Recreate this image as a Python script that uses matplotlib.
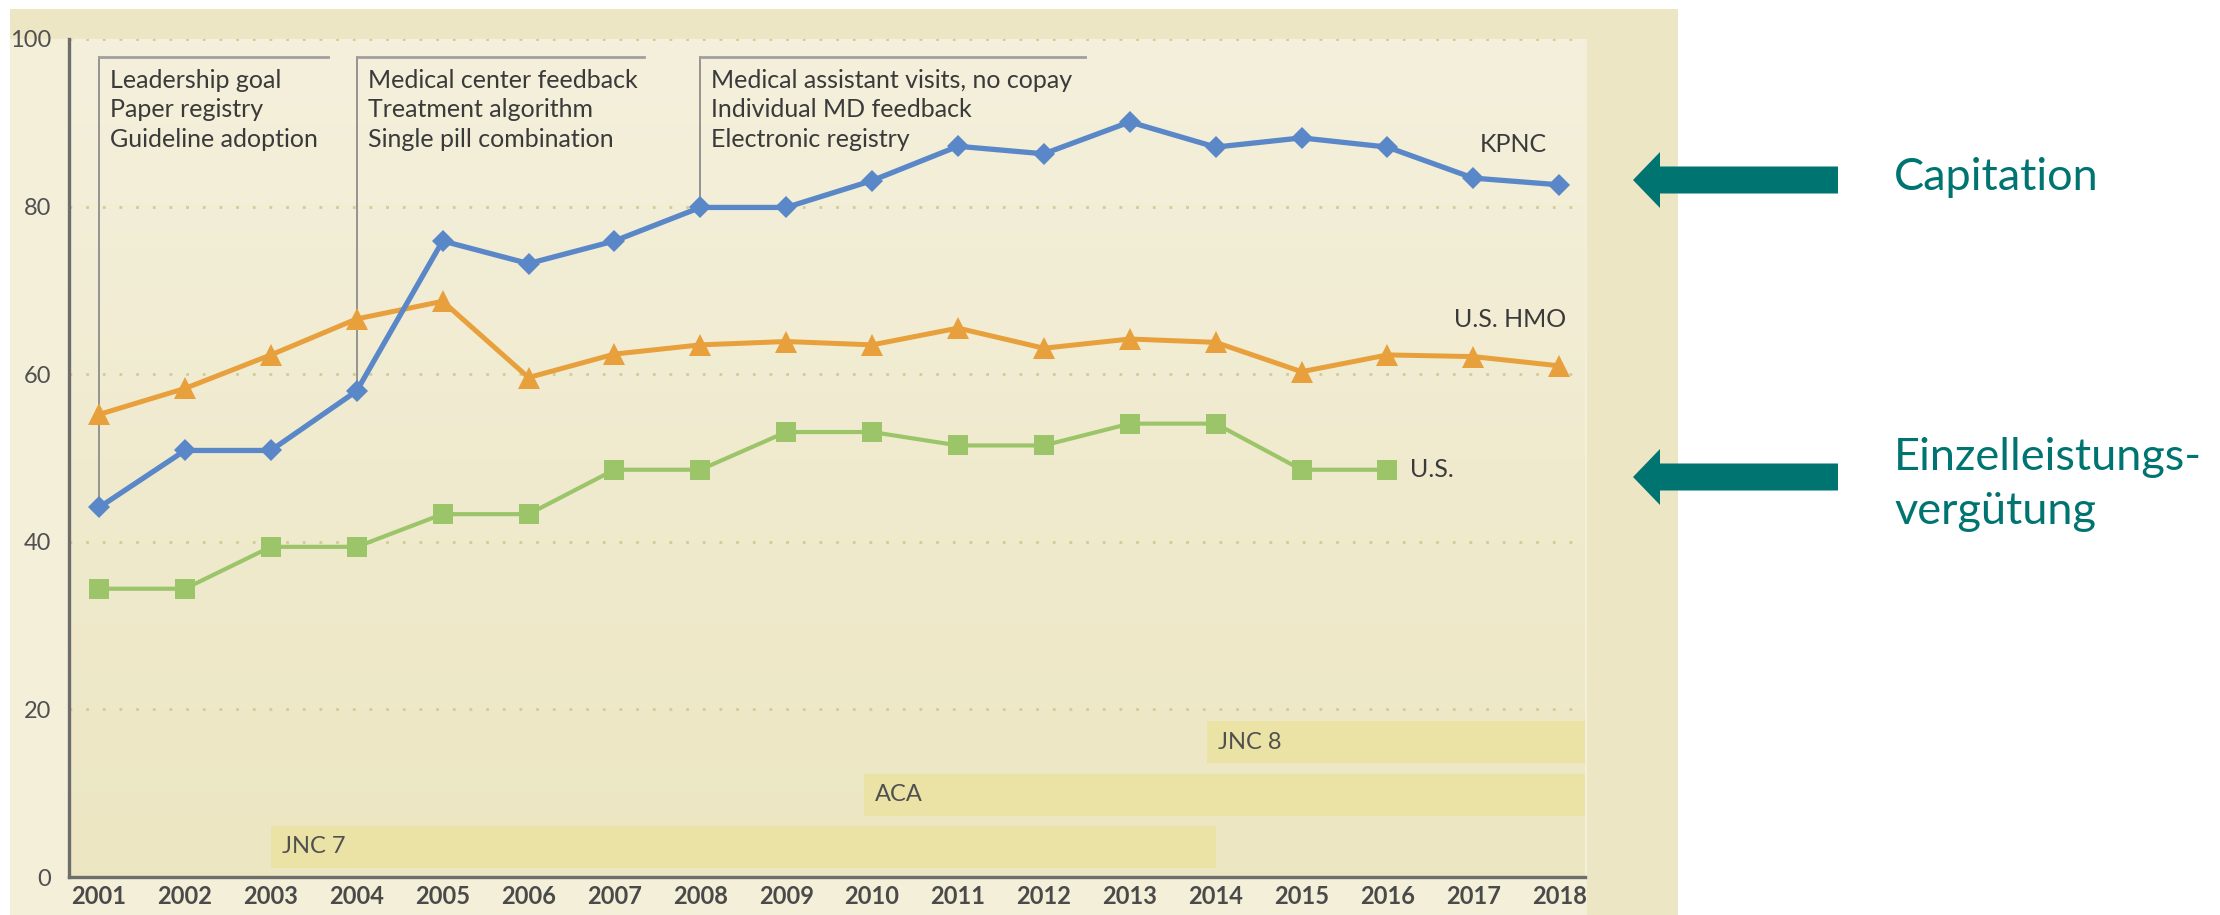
import numpy as np
import matplotlib.pyplot as plt
from matplotlib.patches import Rectangle, FancyArrow
from matplotlib.colors import LinearSegmentedColormap

plt.rcParams["font.family"] = ["Lato", "DejaVu Sans"]

years = list(range(2001, 2019))
kpnc = [44.1, 50.9, 50.9, 58.0, 75.9, 73.2, 75.9, 79.9, 79.9, 83.1,
        87.2, 86.3, 90.1, 87.1, 88.2, 87.1, 83.4, 82.6]
us_hmo = [55.2, 58.3, 62.3, 66.6, 68.7, 59.6, 62.4, 63.5, 63.9, 63.5,
          65.5, 63.1, 64.2, 63.8, 60.3, 62.3, 62.1, 61.0]
us_years = list(range(2001, 2017))
us = [34.4, 34.4, 39.4, 39.4, 43.3, 43.3, 48.6, 48.6, 53.1, 53.1,
      51.5, 51.5, 54.1, 54.1, 48.6, 48.6]

note_years = [2001, 2004, 2008]
note_lines = [
    ["Leadership goal", "Paper registry", "Guideline adoption"],
    ["Medical center feedback", "Treatment algorithm", "Single pill combination"],
    ["Medical assistant visits, no copay", "Individual MD feedback", "Electronic registry"],
]

policy_names = ["JNC 7", "ACA", "JNC 8"]
policy_start = [2003.0, 2009.9, 2013.9]
policy_end = [2014.0, 2018.3, 2018.3]
policy_row = [3.6, 9.8, 16.1]

y_ticks = [0, 20, 40, 60, 80, 100]

teal = "#007471"
txt = "#3a3a3a"

fig = plt.figure(figsize=(22.2, 9.15), dpi=100)
fig.patch.set_facecolor("white")

# background panel + arrows in pixel coords
bg = fig.add_axes([0, 0, 1, 1], zorder=0)
bg.set_xlim(0, 2220)
bg.set_ylim(915, 0)
bg.axis("off")
bg.add_patch(Rectangle((10, 9), 1668, 906, color="#f3efd8", lw=0))
bg.add_patch(Rectangle((10, 9), 1668, 30, color="#ece6c5", lw=0))
bg.add_patch(Rectangle((1587, 9), 91, 906, color="#ece6c5", lw=0))

for yc in [180, 477]:
    bg.add_patch(FancyArrow(1838, yc, -205, 0, width=27, head_width=56,
                            head_length=27, length_includes_head=True,
                            color=teal, lw=0))
bg.text(1894, 178, "Capitation", fontsize=32.5, color=teal, va="center", ha="left")
bg.text(1894, 458, "Einzelleistungs-", fontsize=32.5, color=teal, va="center", ha="left")
bg.text(1894, 511, "vergütung", fontsize=32.5, color=teal, va="center", ha="left")

# main chart
ax = fig.add_axes([69 / 2220, (915 - 877) / 915, (1585 - 69) / 2220, (877 - 39) / 915], zorder=1)
ax.patch.set_alpha(0)
x0, x1 = 2000.65, 2018.3
ax.set_xlim(x0, x1)
ax.set_ylim(0, 100)

cmap = LinearSegmentedColormap.from_list("bgfade", ["#f4f0dc", "#ece6c2"])
ax.imshow(np.linspace(0, 1, 256).reshape(-1, 1), extent=[x0, x1, 0, 100],
          aspect="auto", cmap=cmap, zorder=0, origin="upper")

for yv in y_ticks[1:]:
    ax.axhline(yv, color="#d3cb95", lw=2, ls=(0, (1, 5)), zorder=1)

ax.barh(policy_row, [e - s for s, e in zip(policy_start, policy_end)], left=policy_start,
        height=5.0, color="#ebe2a6", zorder=1.2)
for name, s, r in zip(policy_names, policy_start, policy_row):
    ax.text(s + 0.13, r, name, fontsize=17, color="#505050", va="center", ha="left", zorder=2)

# intervention brackets
bracket_end = [2003.67, 2007.35, 2012.48]
line_y = [95.0, 91.6, 88.0]
top = 97.8
for yr, lines, xe in zip(note_years, note_lines, bracket_end):
    ax.plot([yr, yr], [kpnc[years.index(yr)], top], color="#8c8c8c", lw=1.3, zorder=2)
    ax.plot([yr, xe], [top, top], color="#a0a0a0", lw=2, zorder=2)
    for ly, line in zip(line_y, lines):
        ax.text(yr + 0.13, ly, line, fontsize=18, color=txt,
                va="center", ha="left", zorder=2)

ax.plot(years, kpnc, color="#5a87c8", lw=3.8, marker="D", ms=11.5, mew=0, zorder=4)
ax.plot(years, us_hmo, color="#e8a03c", lw=3.6, marker="^", ms=15.5, mew=0, zorder=3)
ax.plot(us_years, us, color="#9cc56a", lw=3.0, marker="s", ms=15, mew=0, zorder=3)

ax.text(2017.08, 87.4, "KPNC", fontsize=18, color=txt, va="center", ha="left")
ax.text(2016.77, 66.5, "U.S. HMO", fontsize=18, color=txt, va="center", ha="left")
ax.text(2016.26, 48.6, "U.S.", fontsize=18, color=txt, va="center", ha="left")

ax.set_xticks(years)
ax.set_xticklabels([str(y) for y in years], fontsize=17, fontweight="bold", color="#4a4a4a")
ax.set_yticks(y_ticks)
ax.set_yticklabels([str(v) for v in y_ticks], fontsize=17, color="#505050")
ax.tick_params(axis="both", length=0)
ax.tick_params(axis="y", pad=13)
ax.tick_params(axis="x", pad=6)

for side in ["top", "right"]:
    ax.spines[side].set_visible(False)
for side in ["left", "bottom"]:
    ax.spines[side].set_color("#6d6d6d")
    ax.spines[side].set_linewidth(2.4)
    ax.spines[side].set_zorder(5)

fig.savefig("out.png", dpi=100)
